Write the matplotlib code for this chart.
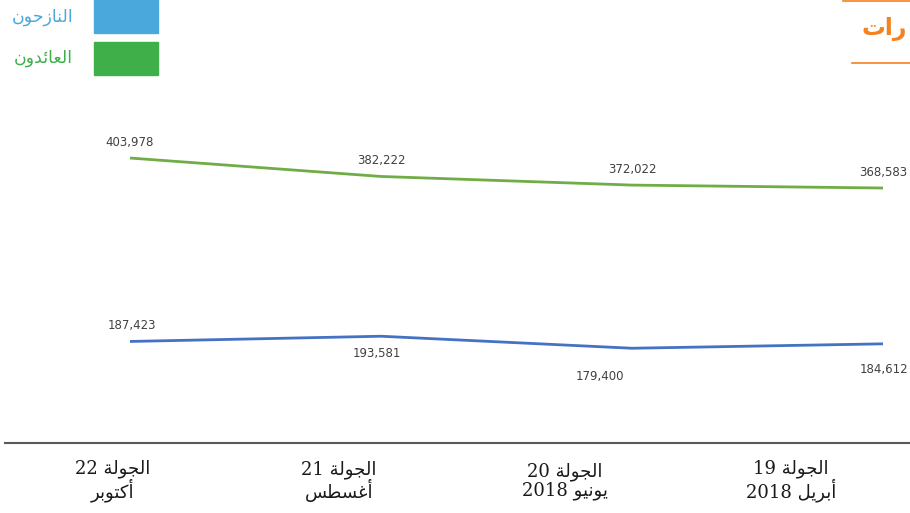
import matplotlib
matplotlib.use("Agg")
import matplotlib.pyplot as plt
from matplotlib.lines import Line2D
from matplotlib.patches import Rectangle

# ---------------- data ----------------
rounds = ["الجولة 19\nأبريل 2018", "الجولة 20\nيونيو 2018", "الجولة 21\nأغسطس", "الجولة 22\nأكتوبر"]
returnees = [368583, 372022, 382222, 403978]   # العائدون
idps = [184612, 179400, 193581, 187423]        # النازحون
series_names = ["النازحون", "العائدون"]
title_text = "رات"

# ---------------- minimal Arabic shaping (presentation forms) ----------------
FORMS = {
    '\u0627': (0xFE8D, 0xFE8E, None, None),
    '\u0623': (0xFE83, 0xFE84, None, None),
    '\u0628': (0xFE8F, 0xFE90, 0xFE91, 0xFE92),
    '\u0629': (0xFE93, 0xFE94, None, None),
    '\u062A': (0xFE95, 0xFE96, 0xFE97, 0xFE98),
    '\u062C': (0xFE9D, 0xFE9E, 0xFE9F, 0xFEA0),
    '\u062D': (0xFEA1, 0xFEA2, 0xFEA3, 0xFEA4),
    '\u062F': (0xFEA9, 0xFEAA, None, None),
    '\u0631': (0xFEAD, 0xFEAE, None, None),
    '\u0632': (0xFEAF, 0xFEB0, None, None),
    '\u0633': (0xFEB1, 0xFEB2, 0xFEB3, 0xFEB4),
    '\u0637': (0xFEC1, 0xFEC2, 0xFEC3, 0xFEC4),
    '\u0639': (0xFEC9, 0xFECA, 0xFECB, 0xFECC),
    '\u063A': (0xFECD, 0xFECE, 0xFECF, 0xFED0),
    '\u0643': (0xFED9, 0xFEDA, 0xFEDB, 0xFEDC),
    '\u0644': (0xFEDD, 0xFEDE, 0xFEDF, 0xFEE0),
    '\u0646': (0xFEE5, 0xFEE6, 0xFEE7, 0xFEE8),
    '\u0648': (0xFEED, 0xFEEE, None, None),
    '\u064A': (0xFEF1, 0xFEF2, 0xFEF3, 0xFEF4),
    '\u0626': (0xFE89, 0xFE8A, 0xFE8B, 0xFE8C),
}


def shape_word(w):
    out = []
    n = len(w)
    for k, ch in enumerate(w):
        f = FORMS.get(ch)
        if f is None:
            out.append(ch)
            continue
        prev = w[k - 1] if k > 0 else None
        nxt = w[k + 1] if k < n - 1 else None
        jp = prev in FORMS and FORMS[prev][2] is not None
        jn = nxt in FORMS and f[2] is not None
        if jp and jn:
            c = f[3]
        elif jp:
            c = f[1]
        elif jn:
            c = f[2]
        else:
            c = f[0]
        out.append(chr(c))
    return ''.join(reversed(out))


def ar(s):
    lines = []
    for line in s.split('\n'):
        toks = line.split(' ')
        vis = [shape_word(t) if any('\u0600' <= c <= '\u06FF' for c in t) else t for t in toks]
        lines.append(' '.join(reversed(vis)))
    return '\n'.join(lines)


# ---------------- figure ----------------
W, H = 910, 513
fig = plt.figure(figsize=(W / 100, H / 100), dpi=100)
fig.patch.set_facecolor("white")

ax = fig.add_axes([0, 0, 1, 1])
ax.set_xlim(3.518, -0.1076)
ax.set_ylim(-15112, 590555)
ax.axis("off")

x = list(range(len(rounds)))
green = "#70AD47"
blue = "#4472C4"
ax.plot(x, returnees, color=green, lw=2.0, solid_capstyle="butt", zorder=3)
ax.plot(x, idps, color=blue, lw=2.0, solid_capstyle="butt", zorder=3)

lab_kw = dict(fontsize=8.5, color="#404040", ha="center", va="center",
              textcoords="offset pixels", family="DejaVu Sans")
for xi, v in zip(x, returnees):
    ax.annotate(f"{v:,}", (xi, v), xytext=(0, 16), **lab_kw)
idp_offsets = [(1, -26), (-32, -28), (-4, -17), (2, 16)]
for xi, v, off in zip(x, idps, idp_offsets):
    ax.annotate(f"{v:,}", (xi, v), xytext=off, **lab_kw)

# overlay in pixel coordinates for decorations
ov = fig.add_axes([0, 0, 1, 1], facecolor="none")
ov.set_xlim(0, W)
ov.set_ylim(H, 0)
ov.axis("off")

# axis baseline
ov.add_line(Line2D([5, 910], [443, 443], color="#595959", lw=1.5))

# category labels on their own scale
lax = fig.add_axes([0, 0, 1, 1], facecolor="none")
lax.set_xlim(3.5, -0.527)
lax.set_ylim(H, 0)
lax.axis("off")
for xi, r in zip(x, rounds):
    lax.text(xi, 481, ar(r), ha="center", va="center", multialignment="center",
             fontsize=13, color="#1a1a1a", family=["DejaVu Serif", "DejaVu Sans"],
             linespacing=1.0)

# legend
ov.add_patch(Rectangle((94, 0), 64, 33, color="#4AA8DC"))
ov.add_patch(Rectangle((94, 42), 64, 33, color="#3FAF4A"))
ov.text(73, 17, ar(series_names[0]), ha="right", va="center", fontsize=12.5,
        color="#4AA8DC", family="DejaVu Sans")
ov.text(73, 58, ar(series_names[1]), ha="right", va="center", fontsize=12.5,
        color="#3FAF4A", family="DejaVu Sans")

# partial title
orange = "#F58220"
ov.add_line(Line2D([843, 910], [1, 1], color=orange, lw=1.2))
ov.add_line(Line2D([852, 910], [63, 63], color=orange, lw=1.2))
ov.text(907, 29, ar(title_text), ha="right", va="center", fontsize=17,
        fontweight="bold", color=orange, family="DejaVu Sans")

fig.savefig("out.png", dpi=100)
